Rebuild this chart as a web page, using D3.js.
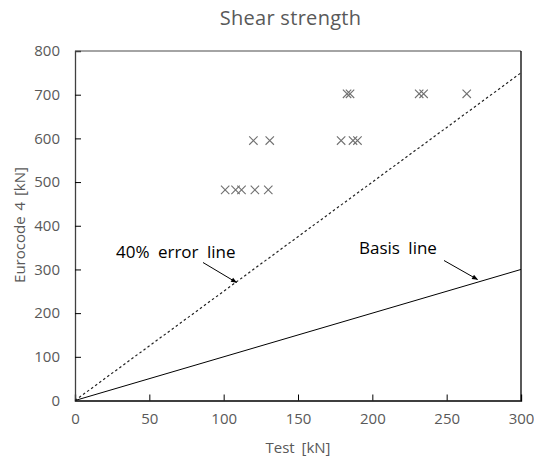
<!DOCTYPE html>
<html><head><meta charset="utf-8">
<script src="https://cdn.jsdelivr.net/npm/d3@7"></script>
<style>body{margin:0;background:#fff}svg{display:block}text{font-family:"Open Sans",sans-serif}</style>
</head><body>
<svg id="c" width="534" height="461"></svg>
<script>
const testValues = [101,108,112,121,130, 120,131,179,187,190, 183,185,231.5,234.5,263.5];
const eurocodeValues = [482,482,482,482,482, 595,595,595,595,595, 702,702,702,702,702];
const xTicks = [0,50,100,150,200,250,300];
const yTicks = [0,100,200,300,400,500,600,700,800];
const basisLine = [[0,0],[300,300]];
const errorLine = [[0,0],[300,750]];
const labels = {title:"Shear strength", x:"Test [kN]", y:"Eurocode 4 [kN]", err:"40% error line", basis:"Basis line"};

const svg = d3.select("#c");
const m = {l:75, r:521, t:51, b:400.5};
const x = d3.scaleLinear().domain([0,300]).range([m.l,m.r]);
const y = d3.scaleLinear().domain([0,800]).range([m.b,m.t]);
const grey = "#595959";

svg.append("defs").append("marker").attr("id","ar").attr("viewBox","0 0 10 10")
  .attr("refX",9).attr("refY",5).attr("markerWidth",7).attr("markerHeight",6).attr("orient","auto")
  .append("path").attr("d","M0,1 L10,5 L0,9 Z").attr("fill","#000");

// frame
svg.append("line").attr("x1",m.l).attr("x2",m.r).attr("y1",m.t).attr("y2",m.t).attr("stroke","#868686").attr("stroke-width",1.3);
svg.append("line").attr("x1",m.r).attr("x2",m.r).attr("y1",m.t).attr("y2",m.b).attr("stroke","#000").attr("stroke-width",1.3);

const xa = svg.append("g").attr("transform",`translate(0,${m.b})`)
  .call(d3.axisBottom(x).tickValues(xTicks).tickSize(-6).tickPadding(13));
const ya = svg.append("g").attr("transform",`translate(${m.l},0)`)
  .call(d3.axisLeft(y).tickValues(yTicks).tickSize(-6).tickPadding(15));
[xa,ya].forEach(a=>{
  a.selectAll("text").attr("fill",grey).style("font-size","15px").style("font-family","'Open Sans',sans-serif");
  a.selectAll(".tick line").attr("stroke","#000");
});
xa.select(".domain").attr("stroke","#000").attr("stroke-width",1.3);
ya.select(".domain").attr("stroke","#404040").attr("stroke-width",1.3);
xa.selectAll(".tick").filter(d=>d===0||d===300).select("line").remove();
ya.selectAll(".tick").filter(d=>d===0||d===800).select("line").remove();

const line = d3.line().x(d=>x(d[0])).y(d=>y(d[1]));
svg.append("path").attr("d",line(basisLine)).attr("stroke","#000").attr("stroke-width",1).attr("fill","none");
svg.append("path").attr("d",line(errorLine)).attr("stroke","#222").attr("stroke-width",1.2).attr("stroke-dasharray","2.5,2.5").attr("fill","none");

// markers
const s = 4.2;
const pts = testValues.map((v,i)=>[v,eurocodeValues[i]]);
svg.append("g").selectAll("path").data(pts).join("path")
  .attr("d",d=>{const cx=x(d[0]),cy=y(d[1]);return `M${cx-s},${cy-s}L${cx+s},${cy+s}M${cx-s},${cy+s}L${cx+s},${cy-s}`;})
  .attr("stroke","#707070").attr("stroke-width",1.1).attr("fill","none");

// annotations
svg.append("text").attr("x",116).attr("y",258).text(labels.err).style("font-size","17px").style("word-spacing","4px").attr("fill","#000");
svg.append("line").attr("x1",203).attr("y1",262.5).attr("x2",236.5).attr("y2",282.5).attr("stroke","#000").attr("stroke-width",1).attr("marker-end","url(#ar)");
svg.append("text").attr("x",359).attr("y",254).text(labels.basis).style("font-size","17px").style("word-spacing","4px").attr("fill","#000");
svg.append("line").attr("x1",444).attr("y1",260.5).attr("x2",477.5).attr("y2",279.5).attr("stroke","#000").attr("stroke-width",1).attr("marker-end","url(#ar)");

// titles
svg.append("text").attr("x",290.5).attr("y",25).attr("text-anchor","middle").text(labels.title).style("font-size","20px").style("letter-spacing","0.3px").attr("fill",grey);
svg.append("text").attr("x",298).attr("y",453).attr("text-anchor","middle").text(labels.x).style("font-size","15px").style("word-spacing","3px").attr("fill",grey);
svg.append("text").attr("transform","translate(25,225) rotate(-90)").attr("text-anchor","middle").text(labels.y).style("font-size","15px").style("word-spacing","2px").attr("fill",grey);
</script>
</body></html>
